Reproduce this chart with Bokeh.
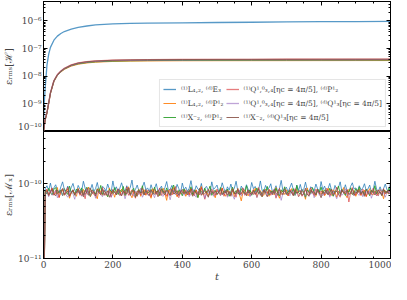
import numpy as np
from bokeh.plotting import figure
from bokeh.layouts import column
from bokeh.models import (LinearAxis, LogAxis, SingleIntervalTicker, FixedTicker,
                          CustomJSTickFormatter, Legend, LegendItem, Range1d)
from bokeh.embed import file_html
from bokeh.resources import INLINE

FONT = "DejaVu Serif"

# ---------------- data ----------------
labels = [
    "⁽¹⁾L₄,₂, ⁽ᵈ⁾E₃",
    "⁽¹⁾L₄,₂, ⁽ᵈ⁾P¹₂",
    "⁽¹⁾X⁻₂, ⁽ᵈ⁾P¹₂",
    "⁽¹⁾Q¹,⁰₃,₄[ηc = 4π/5], ⁽ᵈ⁾P¹₂",
    "⁽¹⁾Q¹,⁰₃,₄[ηc = 4π/5], ⁽ᵈ⁾Q¹₃[ηc = 4π/5]",
    "⁽¹⁾X⁻₂, ⁽ᵈ⁾Q¹₃[ηc = 4π/5]",
]
colors = ["#1f77b4", "#ff7f0e", "#2ca02c", "#d62728", "#9467bd", "#8c564b"]

# top panel: eps_rms[H] vs t
t_top = [0, 2, 5, 10, 15, 20, 30, 40, 50, 60, 80, 100, 125, 150, 200, 250, 300,
         400, 500, 600, 700, 800, 900, 1000]
H_blue = [1.0e-10, 1.0e-9, 4.0e-9, 2.5e-8, 6.3e-8, 1.1e-7, 2.0e-7, 2.8e-7, 3.5e-7,
          4.1e-7, 5.0e-7, 5.8e-7, 6.5e-7, 7.1e-7, 7.8e-7, 8.1e-7, 8.3e-7, 8.5e-7,
          8.7e-7, 8.9e-7, 9.1e-7, 9.3e-7, 9.4e-7, 9.6e-7]
H_orange = [1.0e-10, 1.5e-10, 2.6e-10, 4.5e-10, 1.0e-9, 2.3e-9, 6.3e-9, 1.05e-8,
            1.4e-8, 1.75e-8, 2.3e-8, 2.7e-8, 3.0e-8, 3.2e-8, 3.4e-8, 3.5e-8,
            3.55e-8, 3.6e-8, 3.62e-8, 3.63e-8, 3.64e-8, 3.65e-8, 3.66e-8, 3.67e-8]
H_green = [1.0e-10, 1.5e-10, 2.7e-10, 4.7e-10, 1.05e-9, 2.4e-9, 6.5e-9, 1.08e-8,
           1.45e-8, 1.8e-8, 2.4e-8, 2.8e-8, 3.1e-8, 3.3e-8, 3.5e-8, 3.6e-8,
           3.66e-8, 3.72e-8, 3.75e-8, 3.77e-8, 3.79e-8, 3.8e-8, 3.81e-8, 3.82e-8]
H_red = [1.0e-10, 1.6e-10, 2.8e-10, 5.0e-10, 1.1e-9, 2.55e-9, 7.0e-9, 1.15e-8,
         1.55e-8, 1.93e-8, 2.55e-8, 3.0e-8, 3.35e-8, 3.55e-8, 3.8e-8, 3.9e-8,
         3.96e-8, 4.02e-8, 4.05e-8, 4.07e-8, 4.09e-8, 4.1e-8, 4.11e-8, 4.12e-8]
H_purple = [1.0e-10, 1.55e-10, 2.7e-10, 4.8e-10, 1.07e-9, 2.45e-9, 6.7e-9, 1.1e-8,
            1.5e-8, 1.85e-8, 2.45e-8, 2.88e-8, 3.2e-8, 3.4e-8, 3.62e-8, 3.72e-8,
            3.78e-8, 3.84e-8, 3.87e-8, 3.89e-8, 3.9e-8, 3.91e-8, 3.92e-8, 3.93e-8]
H_brown = [1.0e-10, 1.6e-10, 2.8e-10, 4.9e-10, 1.1e-9, 2.5e-9, 6.9e-9, 1.13e-8,
           1.53e-8, 1.9e-8, 2.52e-8, 2.97e-8, 3.32e-8, 3.52e-8, 3.76e-8, 3.87e-8,
           3.93e-8, 3.99e-8, 4.02e-8, 4.04e-8, 4.06e-8, 4.07e-8, 4.08e-8, 4.09e-8]

# bottom panel: eps_rms[M] vs t, values in units of 1e-11, sampled every 5 in t
M_UNIT = 1e-11
M_blue = [0.1,
 8.6, 9.4, 8.1, 10.2, 7.9, 8.8, 9.7, 8.3, 7.6, 9.1, 10.6, 8.4, 8.0, 9.3, 7.8, 8.9, 10.1, 8.2, 7.7, 9.5,
 8.5, 8.0, 10.8, 8.7, 7.5, 9.0, 8.3, 9.8, 7.9, 8.6, 10.4, 8.1, 7.4, 9.2, 8.8, 8.0, 9.9, 8.4, 7.8, 10.9,
 8.2, 9.1, 7.6, 8.7, 10.3, 8.5, 7.9, 9.4, 8.1, 8.9, 11.2, 7.7, 8.4, 9.6, 8.0, 7.5, 9.0, 10.5, 8.3, 8.8,
 7.8, 9.7, 8.2, 8.6, 10.0, 7.9, 8.5, 9.3, 7.6, 8.9, 10.7, 8.1, 8.4, 9.5, 7.7, 8.0, 9.8, 8.6, 7.5, 10.2,
 8.3, 9.0, 7.9, 8.7, 11.0, 8.2, 7.8, 9.4, 8.5, 8.1, 10.1, 7.6, 8.8, 9.2, 8.0, 7.7, 10.6, 8.4, 8.9, 9.6,
 7.8, 8.3, 10.3, 8.6, 7.5, 9.1, 8.2, 9.9, 7.9, 8.7, 10.8, 8.0, 7.6, 9.3, 8.5, 8.1, 9.7, 8.4, 7.8, 10.4,
 8.6, 9.2, 7.7, 8.3, 10.9, 8.1, 7.9, 9.5, 8.4, 8.8, 10.0, 7.6, 8.2, 9.4, 7.8, 8.6, 11.1, 8.0, 8.5, 9.0,
 7.7, 8.9, 10.2, 8.3, 7.5, 9.6, 8.1, 9.8, 7.9, 8.4, 10.5, 8.2, 7.8, 9.1, 8.7, 8.0, 9.9, 8.5, 7.6, 10.7,
 8.3, 9.3, 7.9, 8.6, 10.1, 8.2, 7.7, 9.5, 8.4, 8.9, 10.6, 7.8, 8.1, 9.7, 8.0, 7.6, 9.2, 10.3, 8.5, 8.8,
 7.9, 9.4, 8.3, 8.7, 10.0, 8.1, 8.5, 9.6, 7.7, 8.2, 10.8, 8.4, 8.0, 9.1, 7.8, 8.6, 9.9, 8.3, 7.5, 10.4]
M_orange = [0.1,
 7.4, 8.2, 6.9, 7.8, 8.6, 7.1, 7.5, 8.9, 6.6, 7.7, 8.3, 7.0, 7.9, 8.5, 6.4, 7.6, 8.1, 7.3, 6.8, 8.7,
 7.5, 6.9, 8.4, 7.2, 7.8, 9.0, 6.7, 7.4, 8.0, 7.1, 6.3, 8.6, 7.7, 7.0, 8.2, 7.5, 6.8, 8.8, 7.3, 7.9,
 6.6, 8.1, 7.4, 7.0, 8.5, 7.8, 6.9, 7.6, 9.1, 7.2, 6.5, 8.0, 7.7, 7.1, 8.4, 6.8, 7.5, 8.3, 7.0, 7.9,
 7.3, 6.4, 8.6, 7.6, 7.2, 8.1, 6.9, 7.8, 8.7, 7.4, 6.0, 8.2, 7.5, 7.1, 8.9, 7.7, 6.7, 8.0, 7.3, 7.6,
 8.4, 6.8, 7.9, 7.2, 8.6, 7.0, 7.5, 8.3, 6.6, 7.8, 9.2, 7.1, 7.4, 8.0, 6.9, 7.7, 8.5, 7.3, 6.5, 8.1,
 7.6, 7.0, 8.8, 7.4, 6.8, 8.2, 7.9, 7.2, 8.4, 6.7, 7.5, 8.6, 7.1, 5.9, 7.8, 8.3, 7.4, 6.9, 8.0, 7.6,
 7.2, 8.7, 6.6, 7.7, 8.1, 7.3, 7.0, 8.5, 7.8, 6.8, 8.2, 7.5, 7.1, 8.9, 7.4, 6.4, 8.0, 7.9, 7.2, 8.3,
 6.9, 7.6, 8.6, 7.0, 7.7, 8.4, 6.7, 7.3, 8.1, 7.5, 6.2, 8.8, 7.4, 7.8, 8.0, 7.1, 6.8, 8.5, 7.6, 7.2,
 8.2, 6.9, 7.5, 8.7, 7.3, 7.0, 8.3, 7.8, 6.6, 8.0, 7.4, 7.7, 8.9, 7.1, 6.5, 8.4, 7.6, 7.2, 8.1, 6.8,
 7.9, 8.5, 7.0, 7.4, 8.2, 6.7, 7.8, 8.6, 7.3, 7.1, 8.0, 7.5, 6.9, 8.4, 7.7, 6.3, 8.1, 7.4, 7.9, 8.3]
M_green = [0.1,
 8.0, 7.3, 8.7, 7.6, 7.1, 8.4, 8.9, 7.4, 7.9, 8.2, 6.9, 8.6, 7.7, 7.2, 9.3, 7.5, 8.1, 7.0, 8.5, 7.8,
 7.4, 8.8, 7.1, 8.0, 9.0, 7.6, 6.8, 8.3, 7.9, 7.3, 8.6, 7.7, 9.5, 7.2, 8.1, 7.5, 6.7, 8.4, 8.0, 7.4,
 8.9, 7.6, 7.2, 8.2, 7.8, 9.2, 7.0, 8.5, 7.7, 7.3, 8.0, 8.7, 6.6, 7.9, 8.3, 7.5, 9.4, 7.1, 8.1, 7.6,
 7.8, 8.4, 7.2, 9.0, 7.5, 8.1, 7.0, 8.6, 7.9, 7.4, 8.8, 7.6, 7.1, 8.3, 9.6, 7.7, 7.3, 8.2, 7.8, 6.9,
 8.5, 7.4, 8.0, 7.7, 9.1, 7.2, 8.3, 7.6, 6.5, 8.4, 7.9, 7.3, 8.7, 7.5, 8.1, 9.3, 7.0, 7.8, 8.2, 7.4,
 7.6, 8.9, 7.2, 8.0, 7.7, 8.5, 6.8, 7.9, 9.0, 7.3, 8.1, 7.6, 7.1, 8.6, 7.8, 7.4, 9.4, 7.5, 8.3, 7.0,
 8.2, 7.7, 8.8, 7.3, 7.9, 6.7, 8.4, 7.6, 9.2, 7.1, 7.8, 8.0, 7.4, 8.7, 7.5, 6.9, 8.3, 7.7, 9.1, 7.2,
 7.9, 8.1, 7.5, 8.6, 7.0, 9.5, 7.6, 7.3, 8.4, 7.8, 6.6, 8.2, 7.9, 7.4, 8.9, 7.6, 7.1, 8.5, 7.7, 9.0,
 7.4, 8.3, 7.8, 7.2, 8.7, 7.5, 6.8, 8.0, 7.9, 9.3, 7.3, 8.4, 7.6, 7.0, 8.1, 7.8, 8.8, 7.2, 7.5, 8.6,
 7.7, 9.1, 7.4, 8.0, 7.1, 8.5, 7.8, 6.9, 8.2, 7.6, 9.4, 7.3, 8.1, 7.7, 7.0, 8.4, 7.9, 7.5, 8.7, 7.8]
M_red = [0.1,
 7.9, 8.5, 7.2, 7.6, 8.8, 7.0, 8.2, 7.4, 6.5, 8.0, 8.6, 7.3, 7.8, 9.0, 6.9, 7.5, 8.3, 7.1, 7.7, 8.4,
 7.0, 8.1, 7.6, 6.3, 8.7, 7.4, 7.9, 8.2, 7.2, 6.8, 8.5, 7.7, 7.1, 8.9, 7.5, 7.0, 8.0, 7.8, 6.6, 8.4,
 7.6, 7.2, 8.6, 7.9, 6.9, 8.1, 7.4, 9.1, 7.0, 7.7, 8.3, 7.3, 6.4, 8.0, 7.8, 7.1, 8.7, 7.5, 7.2, 8.2,
 8.0, 6.7, 7.6, 8.4, 7.3, 7.9, 8.8, 7.0, 7.5, 8.1, 6.8, 7.7, 8.5, 7.2, 7.4, 9.2, 7.1, 6.5, 8.0, 7.8,
 7.3, 8.3, 7.6, 7.0, 8.6, 7.8, 6.9, 8.2, 7.5, 7.1, 8.9, 7.4, 6.2, 7.9, 8.4, 7.2, 7.7, 8.1, 7.0, 8.5,
 7.6, 7.3, 8.7, 6.8, 7.9, 8.0, 7.4, 7.1, 8.6, 7.5, 6.6, 8.3, 7.8, 7.2, 8.8, 7.0, 7.6, 8.2, 6.9, 7.7,
 8.4, 7.1, 7.5, 8.9, 7.3, 6.7, 8.1, 7.9, 7.4, 8.5, 7.0, 7.8, 8.2, 6.4, 7.6, 8.7, 7.2, 7.5, 8.0, 7.3,
 6.9, 8.4, 7.7, 7.1, 8.6, 7.4, 7.9, 8.1, 6.8, 7.5, 8.3, 7.2, 7.0, 8.8, 7.6, 7.0, 8.5, 7.8, 7.3, 8.0,
 7.5, 7.1, 8.7, 7.9, 6.9, 8.2, 7.4, 7.7, 9.0, 7.2, 6.6, 8.1, 7.8, 7.3, 8.4, 5.7, 7.6, 8.9, 7.4, 7.1,
 8.3, 7.6, 7.0, 8.5, 7.8, 6.8, 8.0, 7.5, 7.2, 8.7, 7.4, 6.9, 8.2, 7.7, 7.1, 8.6, 7.3, 7.9, 8.1, 7.6]
M_purple = [0.1,
 7.2, 7.8, 6.7, 8.3, 7.0, 7.5, 8.1, 6.5, 7.4, 7.9, 6.9, 8.4, 7.1, 6.6, 7.7, 8.0, 7.3, 6.2, 7.8, 7.5,
 8.2, 6.8, 7.4, 7.0, 8.6, 7.2, 6.9, 7.7, 8.0, 6.4, 7.5, 7.9, 7.1, 6.7, 8.3, 7.6, 7.0, 8.1, 6.6, 7.4,
 7.7, 7.1, 8.5, 6.9, 7.3, 7.8, 6.3, 7.6, 8.2, 7.0, 7.4, 6.8, 8.0, 7.5, 7.2, 8.7, 6.6, 7.3, 7.9, 7.1,
 6.9, 8.1, 7.4, 6.5, 7.8, 7.2, 8.4, 7.0, 6.8, 7.6, 8.0, 7.3, 6.1, 7.7, 8.2, 7.1, 7.5, 6.9, 8.3, 7.4,
 7.0, 7.6, 8.0, 6.7, 7.3, 8.5, 7.1, 6.6, 7.9, 7.5, 7.2, 8.1, 6.4, 7.4, 7.8, 7.0, 8.6, 6.8, 7.3, 7.7,
 8.1, 6.9, 7.5, 7.2, 8.3, 6.6, 7.6, 7.9, 7.0, 6.2, 7.8, 7.4, 8.2, 6.9, 7.3, 7.7, 7.1, 8.4, 6.7, 7.5,
 7.2, 8.0, 6.5, 7.6, 7.9, 7.0, 7.4, 8.3, 6.8, 7.3, 7.7, 7.1, 8.5, 6.6, 7.5, 7.8, 6.0, 7.4, 8.1, 7.2,
 7.6, 6.9, 8.2, 7.3, 7.0, 7.8, 6.7, 7.5, 8.4, 7.1, 6.8, 7.9, 7.4, 7.2, 8.0, 6.5, 7.7, 8.3, 7.0, 7.4,
 6.9, 7.8, 7.3, 8.1, 6.6, 7.5, 7.9, 7.1, 6.3, 7.6, 8.2, 7.0, 7.4, 8.6, 6.8, 7.2, 7.7, 7.5, 6.9, 8.0,
 7.3, 7.0, 8.3, 6.7, 7.6, 7.9, 7.2, 8.1, 6.4, 7.5, 7.8, 7.1, 6.9, 8.4, 7.3, 7.6, 6.6, 7.7, 8.0, 7.2]
M_brown = [0.1,
 7.6, 8.1, 7.0, 7.9, 8.4, 7.3, 6.9, 8.2, 7.5, 7.8, 8.6, 7.1, 7.4, 8.0, 6.8, 7.7, 8.3, 7.2, 7.6, 8.5,
 7.3, 7.9, 6.7, 8.2, 7.5, 7.0, 8.7, 7.4, 7.8, 6.9, 8.1, 7.6, 7.2, 8.4, 7.0, 7.7, 8.0, 6.6, 7.5, 8.3,
 7.8, 7.1, 8.5, 7.4, 6.9, 8.0, 7.6, 7.3, 8.8, 7.0, 7.7, 8.2, 7.2, 6.8, 8.1, 7.5, 7.9, 7.1, 8.4, 7.3,
 7.0, 8.3, 7.6, 7.2, 8.0, 6.7, 7.8, 8.5, 7.4, 7.1, 8.2, 7.7, 6.9, 8.6, 7.3, 7.5, 8.1, 7.0, 7.8, 8.4,
 7.4, 7.9, 7.1, 8.3, 7.6, 6.8, 8.0, 7.5, 7.2, 8.7, 7.0, 7.7, 8.1, 7.3, 6.6, 8.2, 7.8, 7.4, 8.0, 7.1,
 7.7, 8.4, 7.2, 7.5, 8.1, 7.0, 7.9, 6.8, 8.3, 7.6, 7.3, 8.6, 7.1, 7.4, 8.0, 7.7, 6.9, 8.2, 7.5, 7.2,
 8.0, 7.3, 7.8, 8.5, 7.0, 7.6, 8.2, 7.4, 6.7, 8.1, 7.9, 7.2, 8.4, 7.5, 7.0, 8.3, 7.7, 7.1, 8.6, 7.4,
 7.2, 8.0, 7.6, 6.9, 8.3, 7.5, 7.8, 8.1, 7.0, 7.4, 8.7, 7.3, 6.8, 8.2, 7.6, 7.9, 7.1, 8.4, 7.5, 6.5,
 7.9, 7.4, 8.2, 7.1, 7.7, 8.5, 7.0, 7.6, 8.0, 7.3, 6.9, 8.3, 7.5, 7.8, 8.1, 7.2, 7.4, 8.6, 7.0, 7.7,
 7.5, 8.1, 7.3, 7.9, 6.8, 8.4, 7.6, 7.2, 8.0, 7.7, 7.1, 8.3, 7.4, 7.8, 6.9, 8.2, 7.5, 8.0, 7.3, 7.6]

x_ticks_interval = 200
H_ylim = (1e-10, 5e-6)
M_ylim = (1e-11, 5e-10)
H_major = [1e-10, 1e-9, 1e-8, 1e-7, 1e-6]
M_major = [1e-11, 1e-10]
minor_mults = [2, 3, 4, 5, 6, 7, 8, 9]

H_series = [H_blue, H_orange, H_green, H_red, H_purple, H_brown]
M_series = [M_blue, M_orange, M_green, M_red, M_purple, M_brown]
alphas = [0.75, 0.9, 0.9, 0.6, 0.6, 0.9]
widths = [1.3, 1.0, 1.0, 1.3, 1.3, 1.0]

# ---------------- figures ----------------
sup_js = """
const sup = {"-":"\u207b","0":"\u2070","1":"\u00b9","2":"\u00b2","3":"\u00b3","4":"\u2074",
             "5":"\u2075","6":"\u2076","7":"\u2077","8":"\u2078","9":"\u2079"};
const e = Math.round(Math.log10(tick));
return "10" + String(e).split("").map(c => sup[c]).join("");
"""

x_range = Range1d(0, 1000)


def log_ticker(majors, ylim):
    minors = [m * d for d in majors for m in minor_mults if ylim[0] <= m * d <= ylim[1]]
    return FixedTicker(ticks=majors, minor_ticks=minors)


def style_axis(ax, show_labels=True):
    ax.major_tick_in = 4
    ax.major_tick_out = 0
    ax.minor_tick_in = 2
    ax.minor_tick_out = 0
    ax.axis_line_color = "black"
    ax.major_tick_line_color = "black"
    ax.minor_tick_line_color = "black"
    ax.major_label_text_font = FONT
    ax.major_label_text_font_size = "9px" if show_labels else "0px"
    ax.major_label_standoff = 2 if show_labels else 0
    ax.axis_label_text_font = FONT
    ax.axis_label_text_font_size = "10px"
    ax.axis_label_text_font_style = "normal"
    ax.axis_label_standoff = 1


def make_fig(height, ylim, majors, ylabel, is_top):
    p = figure(width=391, height=height, x_range=x_range,
               y_range=Range1d(*ylim), y_axis_type="log",
               output_backend="svg", toolbar_location=None,
               min_border_left=31, min_border_right=1,
               min_border_top=1 if is_top else 0,
               min_border_bottom=0)
    p.xgrid.visible = False
    p.ygrid.visible = False
    p.outline_line_color = "black"
    p.background_fill_color = "white"
    p.border_fill_color = "white"
    bottom_ax = p.below[0]
    bottom_ax.ticker = SingleIntervalTicker(interval=x_ticks_interval, num_minor_ticks=4)
    style_axis(bottom_ax, not is_top)
    if is_top:
        bottom_ax.visible = False
    left_ax = p.left[0]
    left_ax.ticker = log_ticker(majors, ylim)
    style_axis(left_ax, True)
    left_ax.formatter = CustomJSTickFormatter(code=sup_js)
    left_ax.axis_label = ylabel
    if is_top:
        top = LinearAxis(ticker=SingleIntervalTicker(interval=x_ticks_interval, num_minor_ticks=4),
                         formatter=CustomJSTickFormatter(code="return '';"))
        style_axis(top, False)
        p.add_layout(top, "above")
    right = LogAxis(ticker=log_ticker(majors, ylim),
                    formatter=CustomJSTickFormatter(code="return '';"))
    style_axis(right, False)
    p.add_layout(right, "right")
    return p


p1 = make_fig(131, H_ylim, H_major, "εᵣₘₛ[ℋ]", True)
p2 = make_fig(153, M_ylim, M_major, "εᵣₘₛ[ℳₓ]", False)
xb = p2.below[0]
xb.axis_label = "t"
xb.axis_label_text_font_style = "italic"
xb.axis_label_standoff = 0
xb.major_label_standoff = 2

items = []
for lab, col, a, w, hs in zip(labels, colors, alphas, widths, H_series):
    r = p1.line(t_top, hs, line_color=col, line_alpha=a, line_width=w)
    items.append(LegendItem(label=lab, renderers=[r]))

for col, a, w, ms in zip(colors, alphas, widths, M_series):
    t_m = np.arange(0, 5 * len(ms), 5)
    y_m = np.array(ms) * M_UNIT
    p2.line(t_m, y_m, line_color=col, line_alpha=a, line_width=1.0)

leg = Legend(items=items, location="bottom_right", ncols=2)
leg.label_text_font = FONT
leg.label_text_font_size = "7.5px"
leg.glyph_width = 13
leg.glyph_height = 12
leg.label_height = 12
leg.label_standoff = 5
leg.spacing = 2
leg.padding = 3
leg.margin = 4
leg.border_line_color = "#cccccc"
leg.background_fill_alpha = 0.85
p1.add_layout(leg)

layout = column(p1, p2, spacing=0)
open("out.html", "w").write(file_html(layout, INLINE))
